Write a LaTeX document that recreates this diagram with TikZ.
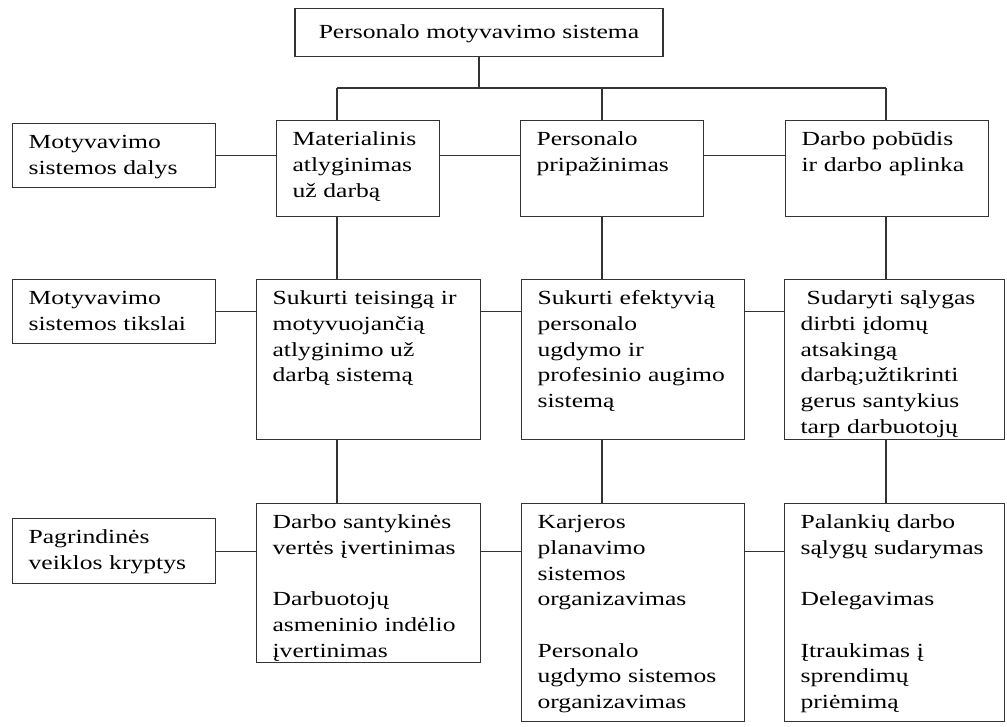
\documentclass[tikz,border=0pt]{standalone}
\usepackage{fontspec}
\setmainfont{Liberation Serif}[FakeStretch=1.28]
\hyphenpenalty=10000

\begin{document}
\begin{tikzpicture}[x=1pt, y=-1pt,
  frame/.style={draw=black!80, line width=1.2pt, anchor=north west, align=left,
    inner xsep=16pt, inner ysep=0pt, text height=25pt,
    font=\fontsize{20}{25.7}\selectfont},
  title/.style={frame, anchor=north, align=center, text width=336pt,
    text height=30pt, text depth=18pt},
  link/.style={draw=black!80, line width=1.2pt}]
  \useasboundingbox (0,0) rectangle (1007,726);

  \node[title] (sys) at (479,8) {Personalo motyvavimo sistema};

  % parts of the system
  \node[frame, text width=171pt, text depth=39pt] (dalys) at (12,123) {Motyvavimo\\sistemos dalys};
  \node[frame, text width=131pt, text depth=71pt] (mat) at (276,120) {Materialinis\\atlyginimas\\už darbą};
  \node[frame, text width=151pt, text depth=71pt] (pers) at (520,120) {Personalo\\pripažinimas};
  \node[frame, text width=171pt, text depth=71pt] (darbo) at (785,120) {Darbo pobūdis\\ir darbo aplinka};

  % goals
  \node[frame, text width=171pt, text depth=39pt] (tiksl) at (12,279) {Motyvavimo\\sistemos tikslai};
  \node[frame, text width=192pt, text depth=135pt] (teis) at (256,279)
    {Sukurti teisingą ir\\motyvuojančią\\atlyginimo už\\darbą sistemą};
  \node[frame, text width=191pt, text depth=135pt] (efekt) at (521,279)
    {Sukurti efektyvią\\personalo\\ugdymo ir\\profesinio augimo\\sistemą};
  \node[frame, text width=188pt, text depth=135pt] (salyg) at (784,279)
    {\hspace*{6pt}Sudaryti sąlygas\\dirbti įdomų\\atsakingą\\darbą;užtikrinti\\gerus santykius\\tarp darbuotojų};

  % main directions
  \node[frame, text width=171pt, text depth=40pt] (kryp) at (12,518) {Pagrindinės\\veiklos kryptys};
  \node[frame, text width=192pt, text depth=134pt] (vert) at (256,503)
    {Darbo santykinės\\vertės įvertinimas\\[25.7pt]Darbuotojų\\asmeninio indėlio\\įvertinimas};
  \node[frame, text width=191pt, text depth=193pt] (karj) at (521,503)
    {Karjeros\\planavimo\\sistemos\\organizavimas\\[25.7pt]Personalo\\ugdymo sistemos\\organizavimas};
  \node[frame, text width=188pt, text depth=193pt] (deleg) at (784,503)
    {Palankių darbo\\sąlygų sudarymas\\[25.7pt]Delegavimas\\[25.7pt]Įtraukimas į\\sprendimų\\priėmimą};

  \coordinate (b1) at (337,88);
  \coordinate (b2) at (602,88);
  \coordinate (b3) at (886,88);

  \draw[link] (sys.south) -- (sys.south |- b2);
  \draw[link] (b1) -- (b3);
  \draw[link] (b1) -- (b1 |- mat.north);
  \draw[link] (b2) -- (b2 |- pers.north);
  \draw[link] (b3) -- (b3 |- darbo.north);

  \draw[link] (b1 |- mat.south) -- (b1 |- teis.north);
  \draw[link] (b1 |- teis.south) -- (b1 |- vert.north);
  \draw[link] (b2 |- pers.south) -- (b2 |- efekt.north);
  \draw[link] (b2 |- efekt.south) -- (b2 |- karj.north);
  \draw[link] (b3 |- darbo.south) -- (b3 |- salyg.north);
  \draw[link] (b3 |- salyg.south) -- (b3 |- deleg.north);

  \draw[link] (dalys.east) -- (dalys.east -| mat.west);
  \draw[link] (dalys.east -| mat.east) -- (dalys.east -| pers.west);
  \draw[link] (dalys.east -| pers.east) -- (dalys.east -| darbo.west);
  \draw[link] (tiksl.east) -- (tiksl.east -| teis.west);
  \draw[link] (tiksl.east -| teis.east) -- (tiksl.east -| efekt.west);
  \draw[link] (tiksl.east -| efekt.east) -- (tiksl.east -| salyg.west);
  \draw[link] (kryp.east) -- (kryp.east -| vert.west);
  \draw[link] (kryp.east -| vert.east) -- (kryp.east -| karj.west);
  \draw[link] (kryp.east -| karj.east) -- (kryp.east -| deleg.west);
\end{tikzpicture}
\end{document}
